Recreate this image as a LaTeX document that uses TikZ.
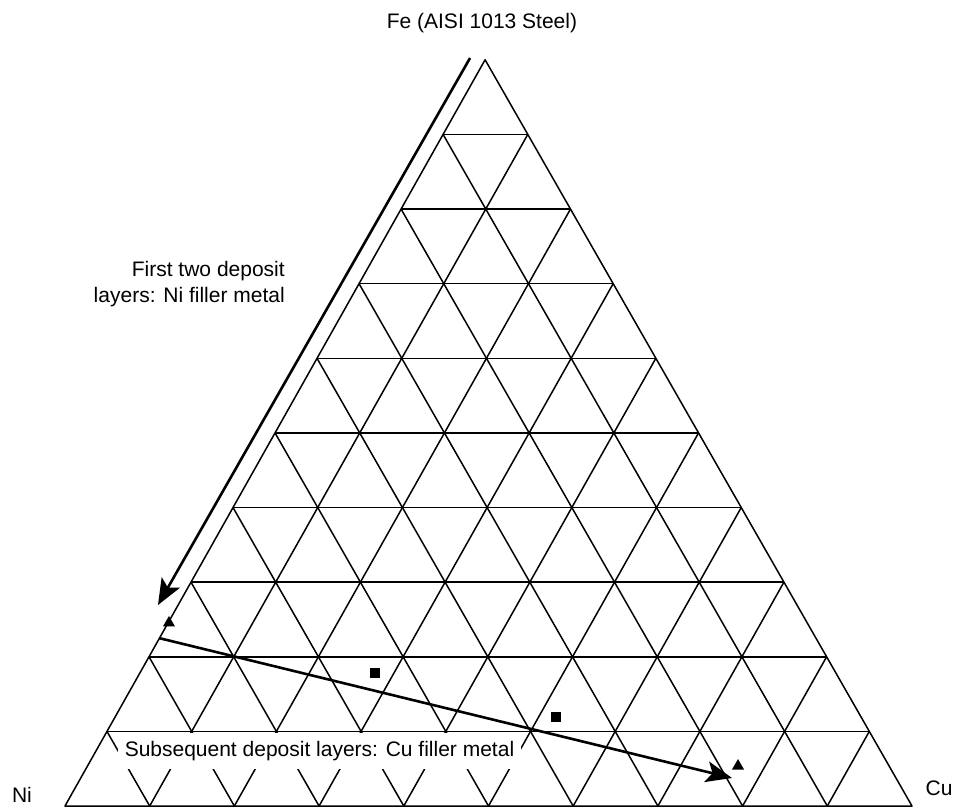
\documentclass[tikz,border=0pt]{standalone}
\usepackage{fontspec}
\setmainfont{Liberation Sans}
\usepackage{tikz}
\usetikzlibrary{arrows.meta}
\usetikzlibrary{calc}
\usetikzlibrary{shapes.geometric}
\tikzset{gridline/.style = {line width=1.5pt, line join=round},
         deposit/.style = {line width=2.6pt,
                           -{Stealth[length=26pt, width=21pt, inset=6pt]}},
         labeltext/.style = {inner sep=0pt, font=\fontsize{21}{26}\selectfont},
         tripoint/.style = {regular polygon, regular polygon sides=3,
                            fill=black, inner sep=0pt, minimum size=14pt},
         sqpoint/.style = {rectangle, fill=black, inner sep=0pt, minimum size=10pt}}

\begin{document}
\begin{tikzpicture}[x=84.7pt, y=84.7pt]
      \useasboundingbox (-0.767, -0.024) rectangle (10.543, 9.516);

      \coordinate (ni) at (0, 0);
      \coordinate (cu) at (10, 0);
      \coordinate (fe) at (4.96, 8.81);

      % ternary grid, ten divisions
      \draw [gridline] (ni) -- (cu) -- (fe) -- cycle;
      \foreach \k in {1,...,9} {
        \draw [gridline] ($(ni)!\k/10!(fe)$) -- ($(cu)!\k/10!(fe)$);
        \draw [gridline] ($(ni)!\k/10!(cu)$) -- ($(ni)!\k/10!(fe)$);
        \draw [gridline] ($(ni)!\k/10!(cu)$) -- ($(cu)!{1-\k/10}!(fe)$);
      }

      \node [labeltext, fill=white, minimum width=403pt, minimum height=36pt]
            (culabel) at (3.005, 0.649) {Subsequent deposit layers: Cu filler metal};

      % measured compositions
      \node [tripoint] (tri1) at (1.228, 2.161) {};
      \node [tripoint] (tri2) at (7.946, 0.472) {};
      \node [sqpoint] (sq1) at (3.660, 1.570) {};
      \node [sqpoint] (sq2) at (5.797, 1.051) {};

      \coordinate (nistart) at (4.782, 8.831);
      \coordinate (niend) at (1.098, 2.373);
      \coordinate (custart) at (1.110, 1.983);
      \coordinate (cuend) at (7.875, 0.331);
      \draw [deposit] (nistart) -- (niend);
      \draw [deposit] (custart) -- (cuend);

      \node [labeltext] (felabel) at (4.923, 9.244) {Fe (AISI 1013 Steel)};
      \node [labeltext] (nicorner) at (-0.508, 0.130) {Ni};
      \node [labeltext] (cucorner) at (10.319, 0.213) {Cu};
      \node [labeltext, anchor=east, align=right] (nilabel) at (2.597, 6.157)
            {First two deposit\\layers: Ni filler metal};
    \end{tikzpicture}
\end{document}
